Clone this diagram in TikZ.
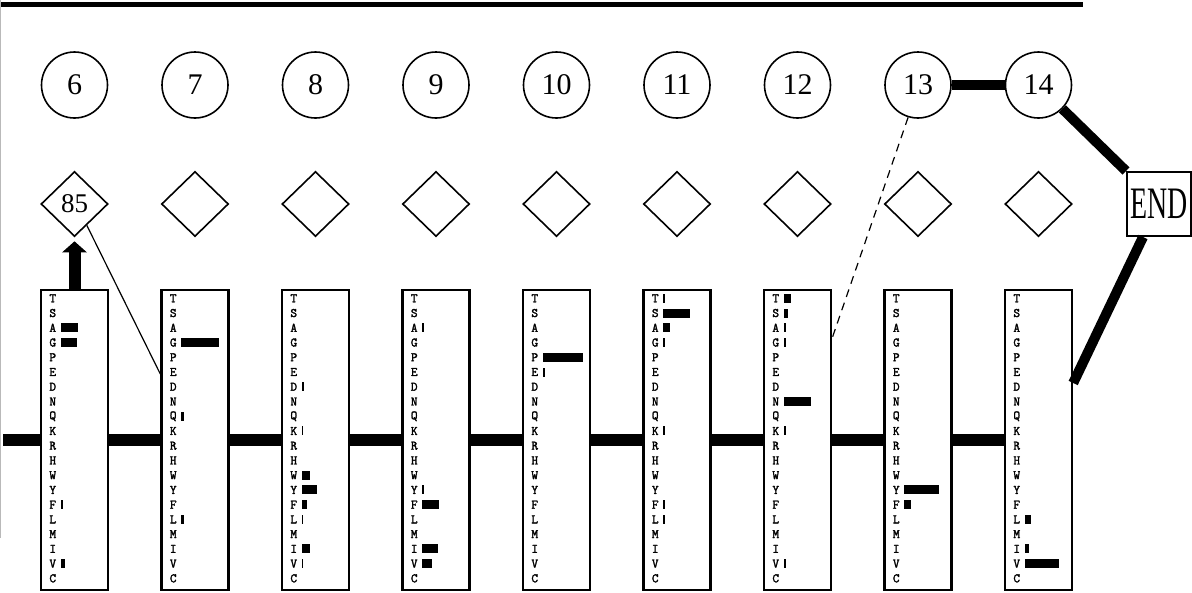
\documentclass[tikz,border=0pt]{standalone}
\usepackage{graphicx}
\usepackage{fontspec}
\setmainfont{Liberation Serif}
\newfontfamily\lettfont[FakeBold=2]{Latin Modern Mono}
\usetikzlibrary{shapes.geometric,arrows.meta}
\tikzset{
  circ/.style={draw, circle, minimum size=66pt, inner sep=0pt, line width=1.6pt, font=\fontsize{30}{30}\selectfont},
  dia/.style={draw, diamond, minimum width=67pt, minimum height=65pt, inner sep=0pt, line width=1.6pt, font=\fontsize{27}{27}\selectfont},
  seqbox/.style={draw, rectangle, minimum width=67pt, minimum height=300pt, inner sep=0pt, line width=2.4pt},
  lett/.style={inner sep=0pt, font=\lettfont\fontsize{13}{13}\selectfont},
  endbox/.style={draw, rectangle, minimum width=64pt, minimum height=64pt, inner sep=0pt, line width=2pt, font=\fontsize{45}{45}\selectfont},
  chain/.style={line width=12pt},
  fat/.style={line width=10pt},
  thin/.style={line width=1.2pt},
  dashedlink/.style={line width=1.2pt, dash pattern=on 8pt off 6pt},
}
\begin{document}
\begin{tikzpicture}[x=1pt,y=-1pt]
\useasboundingbox (0,0) rectangle (1192,592);
% frame lines
\coordinate (tl1) at (0,4);
\coordinate (tl2) at (1083,4);
\draw[line width=5pt] (tl1) -- (tl2);
\coordinate (gl1) at (0.8,0);
\coordinate (gl2) at (0.8,538);
\draw[gray!55, line width=1.4pt] (gl1) -- (gl2);
% columns
\foreach \n [count=\i from 0] in {6,...,14} {
  \pgfmathsetmacro\cx{74.5+120.5*\i}
  \node[circ] (c\n) at (\cx,85) {\n};
  \node[dia] (d\n) at (\cx,204) {\ifnum\n=6 85\fi};
  \node[seqbox] (b\n) at (\cx,440) {};
  \foreach \L [count=\j from 0] in {T,S,A,G,P,E,D,N,Q,K,R,H,W,Y,F,L,M,I,V,C}
    \node[lett] (l\n-\j) at (\cx-21.75,298.3+14.74*\j) {\L};
}
% profile bars
\foreach \n/\r/\w in {6/2/17, 6/3/16, 6/14/2, 6/18/4,
  7/3/38, 7/8/3, 7/15/3,
  8/6/2.5, 8/9/1.5, 8/12/8, 8/13/15, 8/14/5, 8/15/1.5, 8/17/8, 8/18/1.5,
  9/2/2, 9/13/2, 9/14/17, 9/17/16, 9/18/10,
  10/4/40, 10/5/2.5,
  11/0/1.5, 11/1/27, 11/2/7, 11/3/2, 11/9/1.5, 11/14/1.5, 11/15/1.5,
  12/0/7, 12/1/4, 12/2/2, 12/3/2.7, 12/7/27, 12/9/2.7, 12/18/2.7,
  13/13/35, 13/14/7,
  14/15/6, 14/17/4, 14/18/34} {
  \pgfmathsetmacro\bx{74.5+120.5*(\n-6)-14}
  \pgfmathsetmacro\by{298.3+14.74*\r-4.5}
  \fill (\bx,\by) rectangle ++(\w,9);
}
% END node
\node[endbox] (endn) at (1159,204) {\scalebox{0.62}[1]{END}};
% chain through the boxes
\coordinate (lstart) at (3,440);
\draw[chain] (lstart) -- (b6.west);
\foreach \a/\b in {6/7,7/8,8/9,9/10,10/11,11/12,12/13,13/14}
  \draw[chain] (b\a.east) -- (b\b.west);
% other connectors
\draw[fat] (c13.east) -- (c14.west);
\draw[fat] (c14.-45) -- (endn.north west);
\draw[fat] ([xshift=-16pt]endn.south) -- ([yshift=57pt]b14.east);
\draw[dashedlink] (c13.-107) -- ([yshift=102pt]b12.east);
\draw[thin] (d6.-60) -- ([yshift=66pt]b7.west);
\draw[line width=12pt, -{Triangle[width=24pt,length=11pt]}, shorten >=4pt] (b6.north) -- (d6.south);
\end{tikzpicture}
\end{document}
